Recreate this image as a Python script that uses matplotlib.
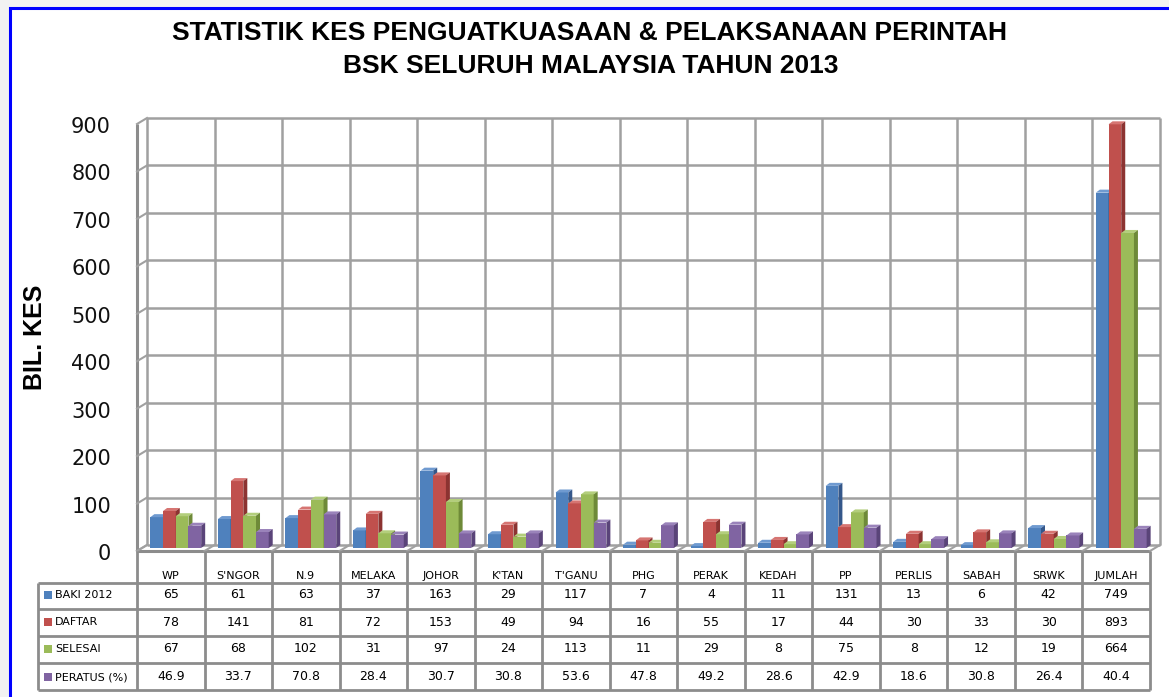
import matplotlib
matplotlib.use("Agg")
import matplotlib.pyplot as plt
from matplotlib.collections import PolyCollection
from matplotlib.patches import Rectangle
from matplotlib.transforms import blended_transform_factory

# ---- Data ---------------------------------------------------------------

categories = ["WP", "S'NGOR", "N.9", "MELAKA", "JOHOR", "K'TAN", "T'GANU",
              "PHG", "PERAK", "KEDAH", "PP", "PERLIS", "SABAH", "SRWK", "JUMLAH"]
series_names = ["BAKI 2012", "DAFTAR", "SELESAI", "PERATUS (%)"]
baki_2012 = [65, 61, 63, 37, 163, 29, 117, 7, 4, 11, 131, 13, 6, 42, 749]
daftar = [78, 141, 81, 72, 153, 49, 94, 16, 55, 17, 44, 30, 33, 30, 893]
selesai = [67, 68, 102, 31, 97, 24, 113, 11, 29, 8, 75, 8, 12, 19, 664]
peratus = [46.9, 33.7, 70.8, 28.4, 30.7, 30.8, 53.6, 47.8, 49.2, 28.6, 42.9,
           18.6, 30.8, 26.4, 40.4]
yticks = [0, 100, 200, 300, 400, 500, 600, 700, 800, 900]

series = [baki_2012, daftar, selesai, peratus]
face_colors = ["#4F81BD", "#C0504D", "#9BBB59", "#8064A2"]
top_colors = ["#6F9AD0", "#D67572", "#B3CE7C", "#9A83BA"]
side_colors = ["#34578A", "#8C3331", "#6E8A38", "#5A4479"]
grid_col = "#A0A0A0"

# ---- Figure / geometry --------------------------------------------------

W, H = 1169, 697
fig = plt.figure(figsize=(W / 100, H / 100), dpi=100, facecolor="#F2F2F2")

# blue outer frame
frame = Rectangle((10 / W, -0.1), 1.2, 1 - 8 / H + 0.1,
                  transform=fig.transFigure, facecolor="white",
                  edgecolor="#0000FF", lw=2.2, zorder=-5)
fig.add_artist(frame)

x0_px, x1_px, y0_px, y1_px = 137, 1150, 551, 124
ax = fig.add_axes([x0_px / W, (H - y0_px) / H, (x1_px - x0_px) / W,
                   (y0_px - y1_px) / H])
n = len(categories)
ax.set_xlim(0, n)
ax.set_ylim(0, 900)
ax.axis("off")

px_x = n / (x1_px - x0_px)
px_y = 900 / (y0_px - y1_px)
dx, dy = 10 * px_x, 6 * px_y          # depth of the 3D box
sx, sy = 4 * px_x, 3 * px_y           # depth of each bar

# back wall grid
ax.hlines([t + dy for t in yticks], dx, n + dx, color=grid_col, lw=1.8,
          clip_on=False, zorder=1)
ax.vlines([i + dx for i in range(n + 1)], dy, 900 + dy, color=grid_col,
          lw=1.8, clip_on=False, zorder=1)
# left wall
ax.vlines(0, 0, 900, color="#8C8C8C", lw=2.2, clip_on=False, zorder=1)
for t in yticks:
    ax.plot([0, dx], [t, t + dy], color=grid_col, lw=1.5, clip_on=False,
            zorder=1)
# floor
ax.hlines(0, 0, n, color="#8C8C8C", lw=2.2, clip_on=False, zorder=1)
for i in range(n + 1):
    ax.plot([i, i + dx], [0, dy], color=grid_col, lw=1.5, clip_on=False,
            zorder=1)

# y tick labels
ytrans = blended_transform_factory(fig.transFigure, ax.transData)
for t in yticks:
    ax.text(111 / W, t - 3 * px_y, str(t), transform=ytrans, ha="right",
            va="center", fontsize=15, family="DejaVu Sans", color="#111111")

fig.text(35 / W, 1 - 337 / H, "BIL. KES", rotation=90, ha="center",
         va="center", fontsize=18, fontweight="bold", family="Liberation Sans")

# bars
w = 12.7 / 67.5
gap = (1 - 4 * w) / 2
bx, by = dx / 2, dy / 2
for s, vals in enumerate(series):
    lefts = [i + gap + s * w + bx for i in range(n)]
    ax.bar(lefts, vals, width=w, bottom=by, align="edge",
           color=face_colors[s], lw=0, zorder=3 + s, clip_on=False)
    tops, sides = [], []
    for xl, v in zip(lefts, vals):
        top = v + by
        tops.append([(xl, top), (xl + w, top), (xl + w + sx, top + sy),
                     (xl + sx, top + sy)])
        sides.append([(xl + w, by), (xl + w + sx, by + sy),
                      (xl + w + sx, top + sy), (xl + w, top)])
    ax.add_collection(PolyCollection(tops, facecolors=top_colors[s], lw=0,
                                     zorder=3 + s, clip_on=False))
    ax.add_collection(PolyCollection(sides, facecolors=side_colors[s], lw=0,
                                     zorder=3 + s, clip_on=False))

# ---- Data table ---------------------------------------------------------

ttrans = blended_transform_factory(ax.transData, fig.transFigure)
rows_px = [551, 583, 609, 636, 663, 690]
text_px = [595, 622, 649, 677]
leg_left = -(x0_px - 38) / 67.5
tab_col = "#8C8C8C"

def fyp(y):
    return 1 - y / H

ax.vlines(range(n + 1), fyp(rows_px[-1]), fyp(rows_px[0]), transform=ttrans,
          color=tab_col, lw=2, clip_on=False)
ax.vlines(leg_left, fyp(rows_px[-1]), fyp(rows_px[1]), transform=ttrans,
          color=tab_col, lw=2, clip_on=False)
ax.hlines([fyp(y) for y in rows_px[1:]], leg_left, n, transform=ttrans,
          color=tab_col, lw=2, clip_on=False)

for i, c in enumerate(categories):
    ax.text(i + 0.5, fyp(576), c, transform=ttrans, ha="center",
            va="center", fontsize=8, family="DejaVu Sans")

for r, (name, vals) in enumerate(zip(series_names, series)):
    yc = fyp(text_px[r])
    fig.add_artist(Rectangle((44 / W, yc - 4 / H), 8 / W, 8 / H,
                             transform=fig.transFigure,
                             facecolor=face_colors[r], lw=0))
    fig.text(55 / W, yc, name, ha="left", va="center", fontsize=8,
             family="DejaVu Sans")
    for i, v in enumerate(vals):
        ax.text(i + 0.5, yc, str(v), transform=ttrans, ha="center",
                va="center", fontsize=9, family="DejaVu Sans")

# ---- Title --------------------------------------------------------------

fig.text(589 / W, 1 - 33 / H, "STATISTIK KES PENGUATKUASAAN & PELAKSANAAN PERINTAH",
         ha="center", va="center", fontsize=19, fontweight="bold",
         family="Liberation Sans")
fig.text(591 / W, 1 - 66 / H, "BSK SELURUH MALAYSIA TAHUN 2013",
         ha="center", va="center", fontsize=19, fontweight="bold",
         family="Liberation Sans")

fig.savefig("out.png", dpi=100, facecolor=fig.get_facecolor())
